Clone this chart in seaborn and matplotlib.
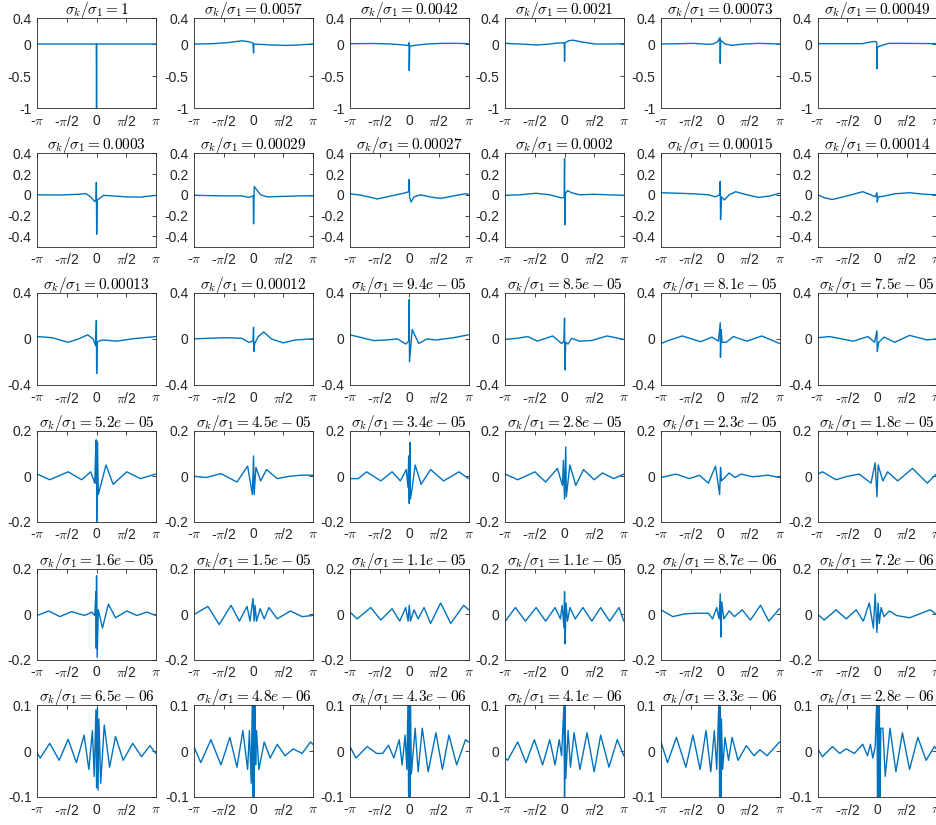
import numpy as np
import pandas as pd
import matplotlib
matplotlib.use('Agg')
import matplotlib.pyplot as plt
import seaborn as sns

sns.set_theme(style='white')
plt.rcParams['font.family'] = ['Liberation Sans', 'DejaVu Sans']
plt.rcParams['mathtext.fontset'] = 'cm'
plt.rcParams['axes.unicode_minus'] = False

# singular value ratios shown in the titles
ratios = ['1', '0.0057', '0.0042', '0.0021', '0.00073', '0.00049',
          '0.0003', '0.00029', '0.00027', '0.0002', '0.00015', '0.00014',
          '0.00013', '0.00012', '9.4e-05', '8.5e-05', '8.1e-05', '7.5e-05',
          '5.2e-05', '4.5e-05', '3.4e-05', '2.8e-05', '2.3e-05', '1.8e-05',
          '1.6e-05', '1.5e-05', '1.1e-05', '1.1e-05', '8.7e-06', '7.2e-06',
          '6.5e-06', '4.8e-06', '4.3e-06', '4.1e-06', '3.3e-06', '2.8e-06']

# (x in units of pi, value)
p01 = [(-1, 0), (-0.004, 0), (0, -1), (0.004, 0), (1, 0)]
p02 = [(-1, 0), (-0.7, 0.005), (-0.45, 0.02), (-0.19, 0.05), (-0.08, 0.035), (-0.01, 0.015), (0, -0.14), (0.006, 0), (0.1, -0.005), (0.3, -0.015), (0.56, -0.022), (0.8, -0.012), (1, 0)]
p03 = [(-1, 0.005), (-0.6, 0.008), (-0.3, 0.0), (-0.1, -0.015), (-0.01, -0.02), (-0.004, 0.02), (0, -0.41), (0.008, -0.035), (0.1, -0.02), (0.3, 0.0), (0.55, 0.01), (0.8, 0.01), (1, 0.005)]
p04 = [(-1, 0.01), (-0.75, 0.0), (-0.46, -0.015), (-0.25, 0.0), (-0.12, 0.015), (-0.005, 0.02), (0, -0.27), (0.006, 0.02), (0.07, 0.05), (0.14, 0.06), (0.3, 0.03), (0.52, 0.0), (0.75, 0.0), (1, 0.005)]
p05 = [(-1, 0.0), (-0.7, 0.005), (-0.45, 0.01), (-0.2, -0.005), (-0.12, 0.0), (-0.04, 0.04), (-0.004, 0.1), (0, -0.3), (0.006, 0.06), (0.08, 0.0), (0.2, -0.02), (0.4, 0.0), (0.65, 0.01), (0.85, 0.005), (1, 0.0)]
p06 = [(-1, 0.005), (-0.6, 0.005), (-0.25, 0.005), (-0.12, 0.03), (-0.04, 0.04), (-0.004, 0.03), (0, -0.385), (0.008, -0.05), (0.05, -0.03), (0.2, 0.01), (0.5, 0.01), (1, 0.005)]
p07 = [(-1, 0), (-0.6, -0.002), (-0.3, 0.005), (-0.18, 0.012), (-0.1, -0.02), (-0.03, -0.065), (-0.008, -0.05), (-0.003, 0.12), (0.002, -0.38), (0.01, -0.05), (0.05, -0.035), (0.12, -0.005), (0.25, -0.01), (0.5, -0.02), (0.74, -0.022), (1, -0.005)]
p08 = [(-1, -0.005), (-0.5, -0.01), (-0.2, -0.01), (-0.08, -0.025), (-0.005, -0.01), (0, -0.28), (0.012, 0.08), (0.05, 0.05), (0.12, 0.0), (0.23, -0.02), (0.5, -0.015), (0.8, -0.01), (1, -0.01)]
p09 = [(-1, 0.01), (-0.8, -0.005), (-0.54, -0.04), (-0.3, -0.01), (-0.06, 0.02), (-0.01, 0.03), (0, 0.15), (0.005, -0.02), (0.03, -0.07), (0.08, -0.02), (0.19, 0.0), (0.35, -0.02), (0.53, -0.035), (0.75, -0.01), (0.95, 0.01), (1, 0.005)]
p10 = [(-1, -0.005), (-0.75, 0.0), (-0.48, 0.015), (-0.25, 0.0), (-0.05, -0.03), (-0.006, -0.025), (0, 0.35), (0.004, -0.29), (0.012, 0.01), (0.05, 0.04), (0.12, 0.02), (0.25, 0.0), (0.5, 0.005), (0.75, 0.0), (1, -0.005)]
p11 = [(-1, 0.02), (-0.7, 0.015), (-0.45, 0.01), (-0.2, 0.0), (-0.08, -0.02), (-0.01, 0.0), (0, 0.13), (0.005, -0.24), (0.02, -0.02), (0.07, -0.05), (0.15, 0.0), (0.26, 0.03), (0.45, 0.0), (0.65, -0.025), (0.85, -0.01), (1, 0.015)]
p12 = [(-1, 0.0), (-0.88, -0.03), (-0.75, -0.045), (-0.5, -0.01), (-0.24, 0.03), (-0.1, 0.0), (-0.03, -0.02), (0, 0.02), (0.005, -0.07), (0.02, -0.02), (0.1, -0.015), (0.3, 0.01), (0.55, 0.02), (0.8, 0.005), (1, 0.0)]
p13 = [(-1, 0.02), (-0.75, 0.01), (-0.48, -0.03), (-0.3, 0.0), (-0.15, 0.035), (-0.06, 0.0), (-0.015, -0.06), (-0.003, 0.16), (0.002, -0.3), (0.01, -0.03), (0.06, -0.015), (0.12, -0.01), (0.34, -0.02), (0.6, 0.0), (0.8, 0.01), (1, 0.02)]
p14 = [(-1, 0.0), (-0.75, 0.005), (-0.45, 0.01), (-0.2, 0.005), (-0.08, -0.03), (-0.01, -0.02), (0, 0.1), (0.004, -0.11), (0.02, -0.04), (0.08, 0.02), (0.17, 0.06), (0.3, 0.0), (0.5, -0.035), (0.7, -0.01), (1, 0.0)]
p15 = [(-1, 0.035), (-0.8, 0.01), (-0.6, -0.015), (-0.4, -0.01), (-0.2, 0.0), (-0.06, -0.045), (-0.01, -0.02), (0, 0.34), (0.004, -0.2), (0.05, 0.08), (0.16, -0.04), (0.3, 0.0), (0.45, -0.01), (0.75, 0.01), (1, 0.035)]
p16 = [(-1, -0.005), (-0.8, 0.005), (-0.62, 0.02), (-0.46, -0.02), (-0.2, 0.025), (-0.05, -0.04), (-0.01, -0.02), (0, 0.18), (0.004, -0.27), (0.02, -0.03), (0.06, -0.045), (0.12, 0.005), (0.25, -0.02), (0.45, -0.015), (0.72, 0.025), (1, -0.005)]
p17 = [(-1, -0.04), (-0.85, -0.01), (-0.64, 0.025), (-0.33, -0.025), (-0.14, 0.015), (-0.03, -0.02), (0, 0.14), (0.004, -0.16), (0.015, 0.08), (0.03, -0.03), (0.1, -0.03), (0.22, 0.02), (0.45, -0.02), (0.7, 0.025), (1, -0.04)]
p18 = [(-1, 0.01), (-0.8, 0.02), (-0.4, -0.02), (-0.15, 0.02), (-0.04, -0.03), (0, 0.07), (0.004, -0.11), (0.03, -0.03), (0.12, 0.015), (0.3, -0.03), (0.55, 0.03), (0.85, -0.01), (1, 0.0)]
p19 = [(-1, 0.01), (-0.79, -0.015), (-0.48, 0.02), (-0.25, -0.015), (-0.1, 0.02), (-0.03, -0.03), (-0.01, 0.16), (-0.005, -0.03), (0, 0.16), (0.003, -0.2), (0.015, 0.15), (0.03, -0.08), (0.16, 0.05), (0.28, -0.035), (0.51, 0.02), (0.74, -0.01), (1, 0.01)]
p20 = [(-1, 0.0), (-0.8, -0.005), (-0.55, 0.012), (-0.28, -0.025), (-0.1, 0.045), (-0.02, -0.08), (0, 0.09), (0.01, -0.08), (0.04, 0.04), (0.12, -0.02), (0.22, 0.03), (0.4, -0.01), (0.6, 0.0), (0.8, 0.005), (1, 0.005)]
p21 = [(-1, -0.01), (-0.86, -0.01), (-0.72, 0.02), (-0.48, -0.02), (-0.29, 0.02), (-0.15, -0.02), (-0.05, 0.03), (-0.02, -0.05), (-0.01, 0.09), (0, -0.12), (0.01, 0.15), (0.02, -0.1), (0.05, -0.05), (0.1, 0.05), (0.2, -0.035), (0.36, 0.03), (0.58, -0.02), (0.84, 0.02), (1, -0.01)]
p22 = [(-1, 0.01), (-0.79, -0.015), (-0.5, 0.02), (-0.32, -0.025), (-0.12, 0.035), (-0.035, -0.04), (-0.02, 0.07), (0, -0.1), (0.02, 0.13), (0.03, -0.09), (0.09, 0.05), (0.19, -0.04), (0.32, 0.03), (0.5, -0.015), (0.64, 0.015), (0.83, -0.01), (1, 0.01)]
p23 = [(-1, -0.005), (-0.75, 0.01), (-0.52, -0.01), (-0.35, 0.005), (-0.2, -0.03), (-0.08, 0.045), (-0.01, -0.08), (0.005, 0.04), (0.02, -0.02), (0.15, 0.015), (0.25, -0.005), (0.35, 0.01), (0.55, -0.002), (0.8, 0.005), (1, -0.005)]
p24 = [(-1, 0.01), (-0.92, 0.02), (-0.69, -0.015), (-0.5, 0.0), (-0.3, 0.01), (-0.1, -0.03), (-0.03, 0.06), (0, -0.09), (0.02, 0.05), (0.1, -0.02), (0.18, 0.02), (0.35, -0.02), (0.6, 0.035), (0.85, -0.03), (1, 0.01)]
p25 = [(-1, -0.005), (-0.81, 0.015), (-0.62, -0.01), (-0.42, 0.012), (-0.2, -0.005), (-0.08, 0.01), (-0.03, -0.005), (-0.01, 0.1), (-0.005, -0.15), (0, 0.17), (0.01, -0.19), (0.03, 0.02), (0.1, -0.06), (0.2, 0.045), (0.32, -0.015), (0.51, 0.015), (0.68, -0.005), (0.85, 0.01), (1, -0.005)]
p26 = [(-1, 0.0), (-0.77, 0.035), (-0.58, -0.045), (-0.38, 0.04), (-0.24, -0.03), (-0.11, 0.035), (-0.06, -0.03), (-0.01, 0.07), (0.01, -0.03), (0.025, 0.04), (0.05, -0.03), (0.11, 0.025), (0.18, -0.02), (0.26, 0.03), (0.4, -0.02), (0.62, 0.015), (0.82, -0.01), (1, -0.005)]
p27 = [(-1, 0.01), (-0.88, -0.02), (-0.65, 0.03), (-0.48, -0.025), (-0.29, 0.025), (-0.16, -0.03), (-0.06, 0.03), (-0.02, -0.03), (0, 0.04), (0.02, -0.03), (0.08, 0.02), (0.15, -0.02), (0.25, 0.03), (0.36, -0.04), (0.53, 0.05), (0.7, -0.04), (0.92, 0.04), (1, 0.02)]
p28 = [(-1, -0.03), (-0.83, 0.03), (-0.66, -0.03), (-0.48, 0.03), (-0.32, -0.03), (-0.16, 0.03), (-0.07, -0.02), (-0.04, 0.04), (-0.01, -0.06), (0, 0.1), (0.01, -0.13), (0.025, 0.05), (0.05, -0.03), (0.09, 0.03), (0.18, -0.02), (0.31, 0.03), (0.46, -0.03), (0.61, 0.03), (0.76, -0.03), (0.92, 0.03), (1, -0.03)]
p29 = [(-1, 0.02), (-0.8, -0.01), (-0.6, 0.002), (-0.4, 0.005), (-0.2, 0.005), (-0.13, -0.02), (-0.06, 0.03), (-0.02, -0.02), (0, 0.09), (0.01, -0.1), (0.025, 0.055), (0.06, -0.02), (0.15, 0.015), (0.24, -0.01), (0.37, 0.02), (0.51, -0.025), (0.68, 0.04), (0.82, -0.03), (1, 0.025)]
p30 = [(-1, 0.0), (-0.89, -0.025), (-0.69, 0.02), (-0.52, -0.02), (-0.35, 0.02), (-0.23, -0.03), (-0.13, 0.05), (-0.06, -0.06), (-0.03, 0.09), (0, -0.08), (0.02, 0.05), (0.04, -0.04), (0.07, 0.03), (0.12, -0.01), (0.21, 0.015), (0.33, -0.005), (0.55, -0.015), (0.75, 0.005), (0.9, 0.02), (1, 0.0)]
p31 = [(-1, -0.005), (-0.95, -0.015), (-0.79, 0.017), (-0.63, -0.02), (-0.48, 0.026), (-0.34, -0.025), (-0.21, 0.035), (-0.13, -0.04), (-0.07, 0.045), (-0.04, -0.055), (-0.01, 0.09), (0, -0.08), (0.015, 0.095), (0.025, -0.085), (0.04, 0.07), (0.07, -0.07), (0.13, 0.057), (0.22, -0.035), (0.32, 0.032), (0.45, -0.02), (0.61, 0.017), (0.76, -0.012), (0.9, 0.012), (1, -0.005)]
p32 = [(-1, 0.008), (-0.89, -0.025), (-0.72, 0.025), (-0.55, -0.03), (-0.4, 0.03), (-0.28, -0.035), (-0.18, 0.045), (-0.1, -0.04), (-0.07, 0.045), (-0.04, -0.07), (-0.02, 0.12), (-0.01, -0.12), (0.0, 0.12), (0.01, -0.12), (0.02, 0.12), (0.035, -0.03), (0.05, 0.045), (0.09, -0.04), (0.18, 0.02), (0.28, -0.015), (0.4, 0.015), (0.53, -0.01), (0.67, 0.005), (0.82, -0.005), (0.96, 0.02), (1, 0.015)]
p33 = [(-1, 0.01), (-0.9, -0.015), (-0.71, 0.01), (-0.55, -0.005), (-0.45, -0.005), (-0.35, 0.013), (-0.26, -0.015), (-0.17, 0.025), (-0.12, -0.03), (-0.07, 0.035), (-0.04, -0.04), (-0.02, 0.12), (-0.01, -0.12), (0, 0.12), (0.01, -0.12), (0.02, 0.12), (0.035, -0.05), (0.1, 0.05), (0.15, -0.045), (0.22, 0.05), (0.32, -0.045), (0.45, 0.04), (0.56, -0.04), (0.67, 0.035), (0.8, -0.03), (0.95, 0.025), (1, 0.02)]
p34 = [(-1, -0.015), (-0.96, -0.02), (-0.79, 0.02), (-0.65, -0.025), (-0.51, 0.025), (-0.37, -0.03), (-0.25, 0.025), (-0.16, -0.03), (-0.09, 0.025), (-0.05, -0.01), (-0.01, 0.1), (0, -0.1), (0.01, 0.1), (0.02, -0.06), (0.06, 0.045), (0.1, -0.035), (0.16, 0.04), (0.26, -0.04), (0.38, 0.04), (0.5, -0.045), (0.61, 0.035), (0.75, -0.035), (0.89, 0.025), (1, -0.01)]
p35 = [(-1, 0.02), (-0.89, -0.025), (-0.74, 0.03), (-0.58, -0.035), (-0.46, 0.035), (-0.34, -0.04), (-0.24, 0.045), (-0.16, -0.045), (-0.1, 0.045), (-0.06, -0.04), (-0.02, 0.12), (-0.01, -0.12), (0, 0.12), (0.01, -0.12), (0.02, 0.07), (0.04, -0.04), (0.08, 0.03), (0.14, -0.02), (0.2, 0.03), (0.3, -0.02), (0.44, 0.012), (0.57, -0.01), (0.67, 0.003), (0.79, -0.01), (1, 0.02)]
p36 = [(-1, 0.005), (-0.92, -0.012), (-0.75, 0.01), (-0.63, -0.005), (-0.52, 0.005), (-0.38, -0.005), (-0.24, 0.015), (-0.16, -0.01), (-0.11, 0.015), (-0.07, -0.015), (-0.03, 0.01), (0, 0.12), (0.01, -0.12), (0.02, 0.12), (0.03, -0.12), (0.04, 0.12), (0.05, -0.12), (0.065, 0.05), (0.1, 0.05), (0.14, -0.055), (0.22, 0.05), (0.32, -0.045), (0.43, 0.04), (0.55, -0.04), (0.69, 0.03), (0.83, -0.02), (0.97, 0.01), (1, 0.005)]

panels = [p01, p02, p03, p04, p05, p06, p07, p08, p09, p10, p11, p12,
          p13, p14, p15, p16, p17, p18, p19, p20, p21, p22, p23, p24,
          p25, p26, p27, p28, p29, p30, p31, p32, p33, p34, p35, p36]

row_ylims = [(-1, 0.4), (-0.5, 0.4), (-0.4, 0.4), (-0.2, 0.2), (-0.2, 0.2), (-0.1, 0.1)]
row_yticks = [[-1, -0.5, 0, 0.4], [-0.4, -0.2, 0, 0.2, 0.4], [-0.4, 0, 0.4],
              [-0.2, 0, 0.2], [-0.2, 0, 0.2], [-0.1, 0, 0.1]]
row_yticklabels = [['-1', '-0.5', '0', '0.4'], ['-0.4', '-0.2', '0', '0.2', '0.4'],
                   ['-0.4', '0', '0.4'], ['-0.2', '0', '0.2'], ['-0.2', '0', '0.2'],
                   ['-0.1', '0', '0.1']]
xtick_pi = [-1, -0.5, 0, 0.5, 1]
xtick_labels = [r'-$\pi$', r'-$\pi$/2', '0', r'$\pi$/2', r'$\pi$']

W, H = 936, 825
col_left = [37.3, 194.3, 350.0, 505.3, 661.0, 817.7]
ax_w = 118.5
row_top = [18.3, 153.3, 292.7, 431.0, 569.0, 705.3]
row_bot = [108.3, 246.7, 385.0, 521.7, 659.7, 797.0]

line_color = '#0072BD'
axis_color = '#262626'

fig = plt.figure(figsize=(W / 100, H / 100), dpi=100)
for i, pts in enumerate(panels):
    r, c = divmod(i, 6)
    ax = fig.add_axes([col_left[c] / W, 1 - row_bot[r] / H, ax_w / W,
                       (row_bot[r] - row_top[r]) / H])
    df = pd.DataFrame(pts, columns=['xpi', 'v'])
    df['x'] = df['xpi'] * np.pi
    sns.lineplot(data=df, x='x', y='v', ax=ax, color=line_color,
                 linewidth=1.0, estimator=None, sort=False)
    ax.set_xlim(-np.pi, np.pi)
    ax.set_ylim(*row_ylims[r])
    ax.set_xticks([t * np.pi for t in xtick_pi])
    ax.set_xticklabels(xtick_labels, fontsize=10)
    ax.set_yticks(row_yticks[r])
    ax.set_yticklabels(row_yticklabels[r], fontsize=10)
    ax.set_xlabel('')
    ax.set_ylabel('')
    ax.tick_params(direction='in', length=3, width=0.6, top=True, right=True,
                   colors=axis_color, pad=4)
    for s in ax.spines.values():
        s.set_color(axis_color)
        s.set_linewidth(0.6)
    ax.set_title(r'$\sigma_k/\sigma_1 = %s$' % ratios[i], fontsize=11,
                 pad=3, color='black')

fig.savefig('out.png', dpi=100)
